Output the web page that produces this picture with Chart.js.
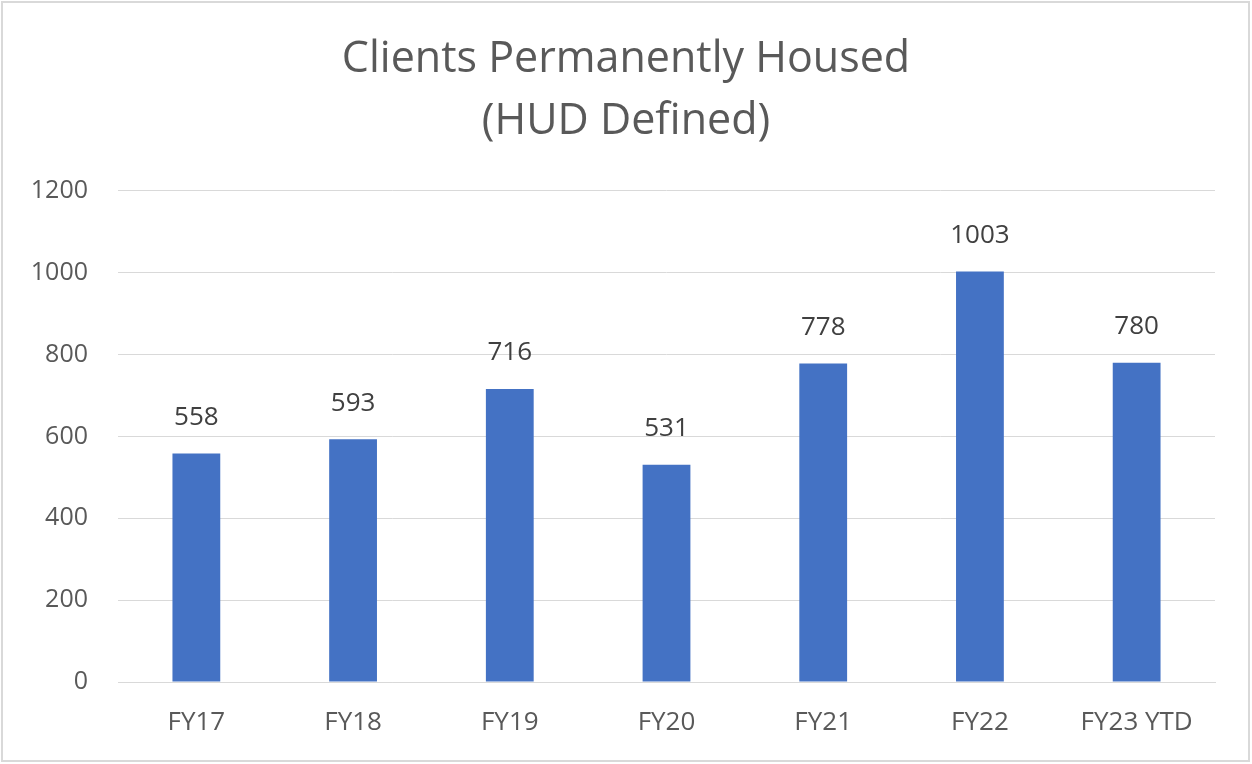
<!DOCTYPE html>
<html>
<head>
<meta charset="utf-8">
<script src="https://cdn.jsdelivr.net/npm/chart.js@4/dist/chart.umd.min.js"></script>
<style>
  html, body { margin: 0; padding: 0; background: #fff; }
  #wrap { position: absolute; left: 0; top: 0; width: 1252px; height: 764px; }
  #frame { position: absolute; left: 1px; top: 1px; width: 1249px; height: 761px; border: 2px solid #d9d9d9; box-sizing: border-box; pointer-events: none; }
</style>
</head>
<body>
<div id="wrap">
  <canvas id="myCanvas" width="1252" height="764"></canvas>
  <div id="frame"></div>
</div>
<script>
const categories = ['FY17', 'FY18', 'FY19', 'FY20', 'FY21', 'FY22', 'FY23 YTD'];
const housed = [558, 593, 716, 531, 778, 1003, 780];
const yTicks = [0, 200, 400, 600, 800, 1000, 1200];

const fontFamily = '"Open Sans", "Noto Sans", sans-serif';

// Value labels above each bar
const barLabels = {
    id: 'barLabels',
    afterDatasetsDraw(chart) {
        const c = chart.ctx;
        const meta = chart.getDatasetMeta(0);
        c.save();
        c.font = '26px ' + fontFamily;
        c.fillStyle = '#404040';
        c.textAlign = 'center';
        c.textBaseline = 'middle';
        meta.data.forEach((bar, i) => {
            c.fillText(String(chart.data.datasets[0].data[i]), bar.x, bar.y - 36);
        });
        c.restore();
    }
};

const ctx = document.getElementById('myCanvas').getContext('2d');
const chart = new Chart(ctx, {
    type: 'bar',
    data: {
        labels: categories,
        datasets: [{
            label: 'Clients Permanently Housed',
            data: housed,
            backgroundColor: '#4472C4',
            barPercentage: 0.305,
            categoryPercentage: 1,
        }],
    },
    options: {
        responsive: false,
        animation: false,
        layout: { padding: 0 },
        plugins: {
            legend: { display: false },
            tooltip: { enabled: false },
            title: {
                display: true,
                text: ['Clients Permanently Housed', '(HUD Defined)'],
                color: '#595959',
                font: { family: fontFamily, size: 43, weight: 'normal', lineHeight: 1.44 },
                padding: { top: 29, bottom: 38 },
            },
        },
        scales: {
            x: {
                grid: { display: false },
                border: { color: '#d9d9d9', width: 1 },
                ticks: {
                    color: '#595959',
                    font: { family: fontFamily, size: 26 },
                    padding: 17,
                    maxRotation: 0,
                },
                afterFit(scale) { scale.height = 82; },
            },
            y: {
                min: 0,
                max: 1200,
                afterBuildTicks(scale) { scale.ticks = yTicks.map(v => ({ value: v })); },
                grid: { color: '#d9d9d9', lineWidth: 1, drawTicks: false },
                border: { display: false },
                ticks: {
                    color: '#595959',
                    font: { family: fontFamily, size: 25 },
                    padding: 30,
                    callback: (v) => String(v),
                },
                afterFit(scale) { scale.width = 118; },
            },
            // empty right margin so the title stays centred on the canvas
            yRight: {
                position: 'right',
                display: true,
                grid: { display: false },
                border: { display: false },
                ticks: { display: false },
                afterFit(scale) { scale.width = 37; },
            },
        },
    },
    plugins: [barLabels],
});
</script>
</body>
</html>
